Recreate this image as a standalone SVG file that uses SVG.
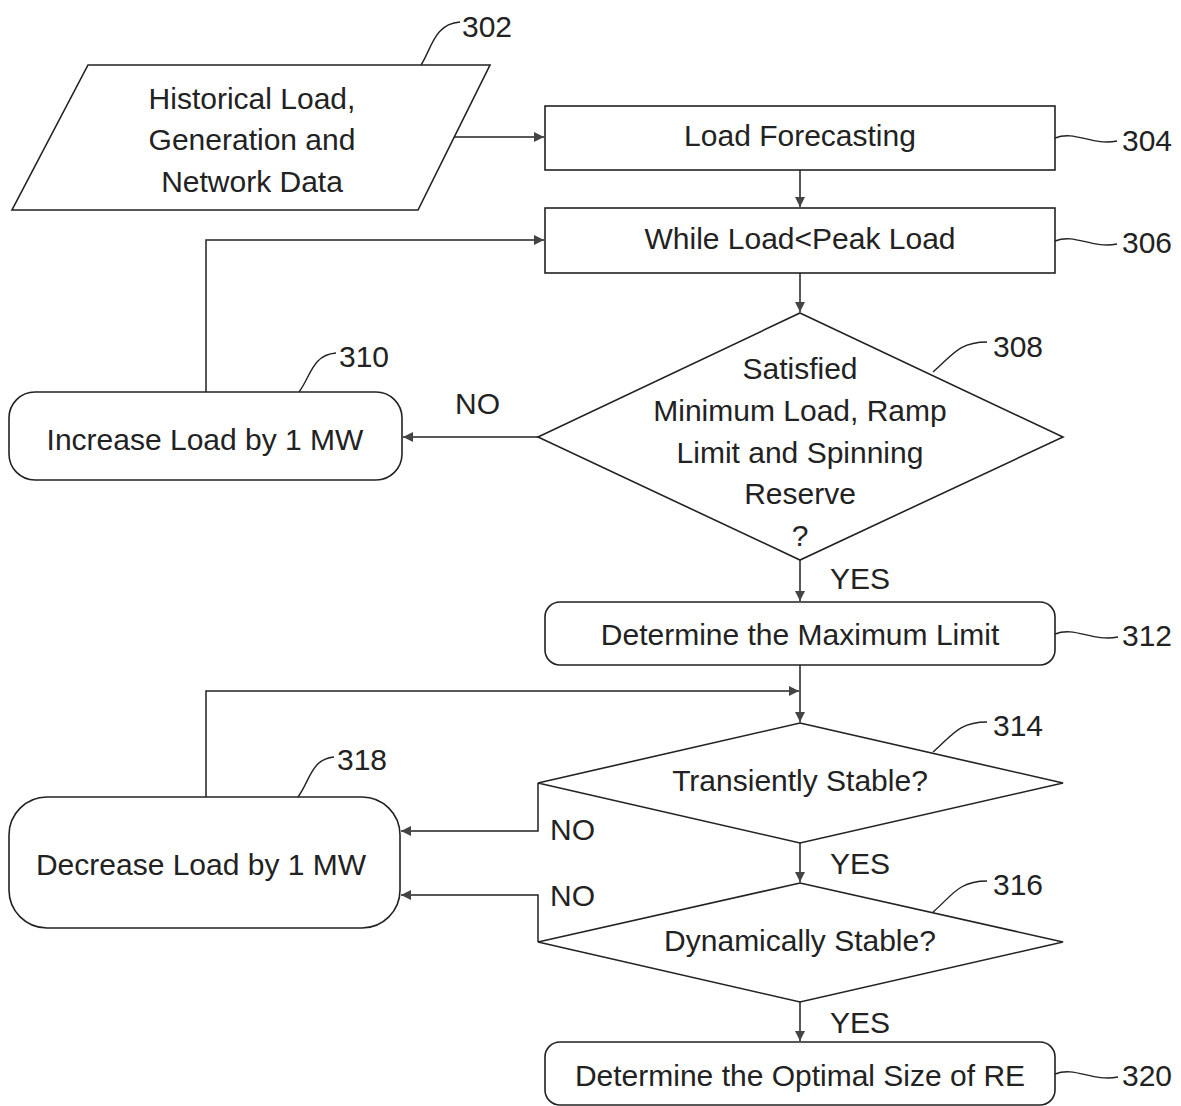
<svg xmlns="http://www.w3.org/2000/svg" width="1181" height="1106" viewBox="0 0 1181 1106">
<style>
.shape{fill:#fff;stroke:#222;stroke-width:1.6}
.line{fill:none;stroke:#222;stroke-width:1.5}
.lead{fill:none;stroke:#222;stroke-width:1.4}
text{font-family:"Liberation Sans",Arial,sans-serif;font-size:30px;fill:#222}
.c{text-anchor:middle}
</style>
<defs>
<marker id="ah" viewBox="0 0 10 10" refX="10" refY="5" markerWidth="12" markerHeight="10" markerUnits="userSpaceOnUse" orient="auto">
<path d="M0,0 L10,5 L0,10 Z" fill="#444"/>
</marker>
</defs>
<rect width="1181" height="1106" fill="#fff"/>
<g id="connectors">
<line class="line" x1="454" y1="137" x2="544" y2="137" marker-end="url(#ah)"/>
<line class="line" x1="800" y1="170" x2="800" y2="207" marker-end="url(#ah)"/>
<line class="line" x1="800" y1="273" x2="800" y2="312" marker-end="url(#ah)"/>
<line class="line" x1="538" y1="437" x2="403" y2="437" marker-end="url(#ah)"/>
<polyline class="line" points="206,392 206,240 544,240" marker-end="url(#ah)"/>
<line class="line" x1="800" y1="560" x2="800" y2="601" marker-end="url(#ah)"/>
<line class="line" x1="800" y1="665" x2="800" y2="722" marker-end="url(#ah)"/>
<polyline class="line" points="206,797 206,691 799,691" marker-end="url(#ah)"/>
<polyline class="line" points="538,783 538,831 401,831" marker-end="url(#ah)"/>
<line class="line" x1="800" y1="843" x2="800" y2="882" marker-end="url(#ah)"/>
<polyline class="line" points="538,942 538,895 401,895" marker-end="url(#ah)"/>
<line class="line" x1="800" y1="1002" x2="800" y2="1041" marker-end="url(#ah)"/>
<text x="455" y="414">NO</text>
<text x="830" y="589">YES</text>
<text x="550" y="840">NO</text>
<text x="830" y="874">YES</text>
<text x="550" y="906">NO</text>
<text x="830" y="1033">YES</text>
</g>
<g id="n302">
<polygon class="shape" points="88,65 490,65 418,210 12,210"/>
<text class="c" x="252" y="109">Historical Load,</text>
<text class="c" x="252" y="150">Generation and</text>
<text class="c" x="252" y="192">Network Data</text>
<path class="lead" d="M421,65 C432,48 434,24 460,22"/>
<text x="462" y="37">302</text>
</g>
<g id="n304">
<rect class="shape" x="545" y="106" width="510" height="64"/>
<text class="c" x="800" y="146">Load Forecasting</text>
<path class="lead" d="M1055,138 C1075,130 1092,146 1117,141"/>
<text x="1122" y="151">304</text>
</g>
<g id="n306">
<rect class="shape" x="545" y="208" width="510" height="65"/>
<text class="c" x="800" y="249">While Load&lt;Peak Load</text>
<path class="lead" d="M1055,241 C1075,233 1092,249 1117,244"/>
<text x="1122" y="253">306</text>
</g>
<g id="n308">
<polygon class="shape" points="800,313 1063,437 800,560 538,437"/>
<text class="c" x="800" y="379">Satisfied</text>
<text class="c" x="800" y="421">Minimum Load, Ramp</text>
<text class="c" x="800" y="463">Limit and Spinning</text>
<text class="c" x="800" y="504">Reserve</text>
<text class="c" x="800" y="546">?</text>
<path class="lead" d="M933,372 C952,356 958,342 987,342"/>
<text x="993" y="357">308</text>
</g>
<g id="n310">
<rect class="shape" x="9" y="392" width="393" height="88" rx="26"/>
<text class="c" x="205" y="450">Increase Load by 1 MW</text>
<path class="lead" d="M299,392 C311,376 312,355 336,353"/>
<text x="339" y="367">310</text>
</g>
<g id="n312">
<rect class="shape" x="545" y="602" width="510" height="63" rx="15"/>
<text class="c" x="800" y="645">Determine the Maximum Limit</text>
<path class="lead" d="M1055,634 C1075,626 1092,642 1118,637"/>
<text x="1122" y="646">312</text>
</g>
<g id="n314">
<polygon class="shape" points="800,723 1063,783 800,843 538,783"/>
<text class="c" x="800" y="791">Transiently Stable?</text>
<path class="lead" d="M933,752 C952,736 958,722 987,722"/>
<text x="993" y="736">314</text>
</g>
<g id="n316">
<polygon class="shape" points="800,883 1063,942 800,1002 538,942"/>
<text class="c" x="800" y="951">Dynamically Stable?</text>
<path class="lead" d="M933,912 C952,896 958,881 987,881"/>
<text x="993" y="895">316</text>
</g>
<g id="n318">
<rect class="shape" x="9" y="797" width="391" height="131" rx="38"/>
<text class="c" x="201" y="875">Decrease Load by 1 MW</text>
<path class="lead" d="M298,797 C310,781 311,759 334,757"/>
<text x="337" y="770">318</text>
</g>
<g id="n320">
<rect class="shape" x="545" y="1042" width="510" height="63" rx="15"/>
<text class="c" x="800" y="1086">Determine the Optimal Size of RE</text>
<path class="lead" d="M1055,1074 C1075,1066 1092,1082 1118,1077"/>
<text x="1122" y="1086">320</text>
</g>
</svg>
